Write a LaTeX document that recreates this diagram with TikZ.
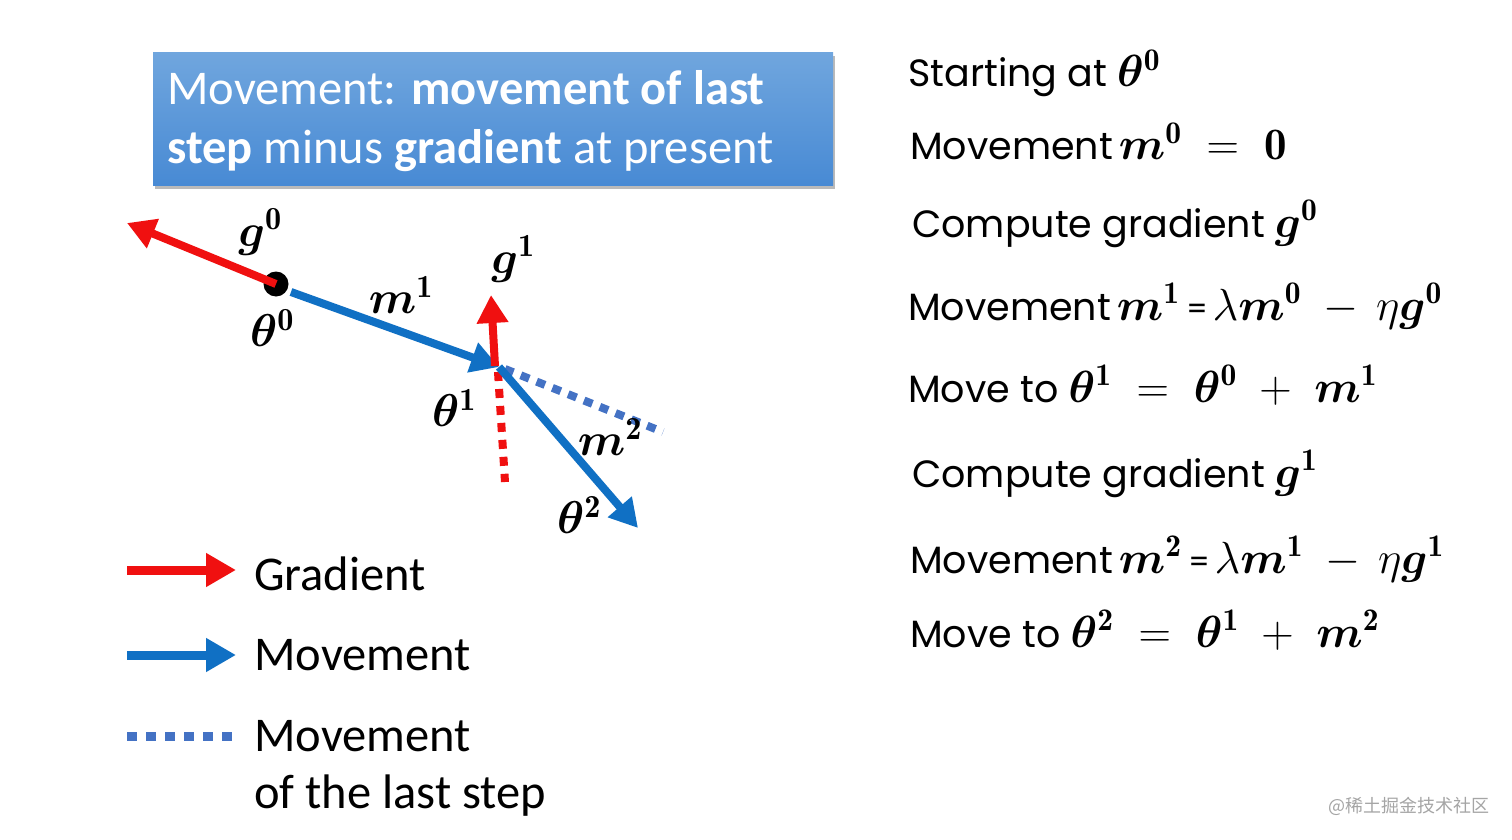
\RequirePackage{fix-cm}
\documentclass[tikz,border=0pt]{standalone}
\usepackage{amsmath,bm}
\usepackage{fontspec}
\newfontfamily\carlito{Carlito}
\newfontfamily\gothic{Poppins}
\newfontfamily\cjk{Noto Sans CJK SC}
\usetikzlibrary{arrows.meta,shadows}
\definecolor{gred}{RGB}{240,16,16}
\definecolor{gblue}{RGB}{16,112,196}
\definecolor{dblue}{RGB}{68,114,196}
\definecolor{boxtop}{RGB}{112,166,222}
\definecolor{boxbot}{RGB}{72,138,212}
\definecolor{wm}{RGB}{165,165,165}
\newcommand{\bth}{\bm{\theta}}
\newcommand{\mth}[1]{{\fontsize{45}{50}\selectfont$#1$}}
\begin{document}
\begin{tikzpicture}[x=1pt,y=-1pt,
  gradarrow/.style={line width=8pt, draw=gred, -{Triangle[length=28pt,width=30pt]}},
  movarrow/.style={line width=8pt, draw=gblue, -{Triangle[length=28pt,width=30pt]}},
  lastmov/.style={line width=8pt, draw=dblue, dash pattern=on 9pt off 8pt},
  lastgrad/.style={line width=8pt, draw=gred, dash pattern=on 9pt off 8pt},
  lbl/.style={inner sep=0pt, font=\fontsize{46}{52}\selectfont},
  boxtxt/.style={inner sep=0pt, anchor=base west, text=white, font=\carlito\fontsize{48.5}{56}\selectfont},
  legtxt/.style={inner sep=0pt, anchor=base west, font=\carlito\fontsize{48.5}{56}\selectfont},
  steptxt/.style={inner sep=0pt, anchor=base west, font=\gothic\fontsize{38}{44}\selectfont},
  legarrow/.style={line width=9pt, -{Triangle[length=30pt,width=32pt]}}]
\useasboundingbox (0,0) rectangle (1512,840);
\fill[white] (0,0) rectangle (1512,840);
% title box
\node[draw=none, top color=boxtop, bottom color=boxbot, minimum width=680pt, minimum height=133pt,
  anchor=north west, inner sep=0pt,
  drop shadow={shadow xshift=2pt, shadow yshift=-4pt, opacity=0.45, fill=black!60}] (box) at (153,52) {};
\node[boxtxt] (bl1) at (167,105) {Movement: \textbf{movement of last}};
\node[boxtxt] (bl2) at (167,163) {\textbf{step} minus \textbf{gradient} at present};
% diagram points
\coordinate (g0tip) at (127,223);
\coordinate (m1start) at (291,292);
\coordinate (t1) at (499,367);
\coordinate (g1start) at (495,366);
\coordinate (g1tip) at (491,295);
\coordinate (t2) at (638,528);
\coordinate (rdotend) at (505,482);
\coordinate (bdotend) at (663,432);
\coordinate (rdotstart) at (498,372);
\coordinate (bdotstart) at (505,369);
% dotted lines
\draw[lastgrad] (rdotstart) -- (rdotend);
\draw[lastmov] (bdotstart) -- (bdotend);
% arrows
\node[circle, fill=black, minimum size=25pt, inner sep=0pt] (t0) at (276,284) {};
\draw[gradarrow] (t0.center) -- (g0tip);
\draw[movarrow] (m1start) -- (t1);
\draw[gradarrow] (g1start) -- (g1tip);
\draw[movarrow] (t1) -- (t2);
% labels
\node[lbl] (lg0) at (260,232) {$\bm{g}^{\mathbf{0}}$};
\node[lbl] (lt0) at (272,328) {$\bth^{\mathbf{0}}$};
\node[lbl] (lm1) at (401,295) {$\bm{m}^{\mathbf{1}}$};
\node[lbl] (lg1) at (513,259) {$\bm{g}^{\mathbf{1}}$};
\node[lbl] (lt1) at (454,408) {$\bth^{\mathbf{1}}$};
\node[lbl] (lm2) at (610,437) {$\bm{m}^{\mathbf{2}}$};
\node[lbl] (lt2) at (579,515) {$\bth^{\mathbf{2}}$};
% legend
\coordinate (la1) at (127,570); \coordinate (lb1) at (236,570);
\coordinate (la2) at (127,655); \coordinate (lb2) at (236,655);
\coordinate (la3) at (127,736); \coordinate (lb3) at (236,736);
\draw[legarrow, draw=gred] (la1) -- (lb1);
\draw[legarrow, draw=gblue] (la2) -- (lb2);
\draw[lastmov, line width=9pt, dash pattern=on 10pt off 9pt] (la3) -- (lb3);
\node[legtxt] (lt1txt) at (254,590) {Gradient};
\node[legtxt] (lt2txt) at (254,670) {Movement};
\node[legtxt] (lt3txt) at (254,751) {Movement};
\node[legtxt] (lt4txt) at (254,808) {of the last step};
% steps
\node[steptxt] (s1) at (908,87) {Starting at \mth{\bth^{\mathbf{0}}}};
\node[steptxt] (s2) at (910,160) {Movement\hspace{6pt}\mth{\bm{m}^{\mathbf{0}}\;=\;\mathbf{0}}};
\node[steptxt] (s3) at (912,237) {Compute gradient \mth{\bm{g}^{\mathbf{0}}}};
\node[steptxt] (s4) at (908,320) {Movement\hspace{6pt}\mth{\bm{m}^{\mathbf{1}}}\hspace{8pt}{\carlito =}\hspace{6pt}\mth{\lambda\bm{m}^{\mathbf{0}}\;-\,\eta\bm{g}^{\mathbf{0}}}};
\node[steptxt] (s5) at (908,402) {Move to \mth{\bth^{\mathbf{1}}\;=\;\bth^{\mathbf{0}}\;+\;\bm{m}^{\mathbf{1}}}};
\node[steptxt] (s6) at (912,487) {Compute gradient \mth{\bm{g}^{\mathbf{1}}}};
\node[steptxt] (s7) at (910,573) {Movement\hspace{6pt}\mth{\bm{m}^{\mathbf{2}}}\hspace{8pt}{\carlito =}\hspace{6pt}\mth{\lambda\bm{m}^{\mathbf{1}}\;-\,\eta\bm{g}^{\mathbf{1}}}};
\node[steptxt] (s8) at (910,647) {Move to \mth{\bth^{\mathbf{2}}\;=\;\bth^{\mathbf{1}}\;+\;\bm{m}^{\mathbf{2}}}};
% watermark
\node[inner sep=0pt, anchor=east, text=wm, font=\cjk\fontsize{18}{20}\selectfont] (wmk) at (1490,806) {@稀土掘金技术社区};
\end{tikzpicture}
\end{document}
